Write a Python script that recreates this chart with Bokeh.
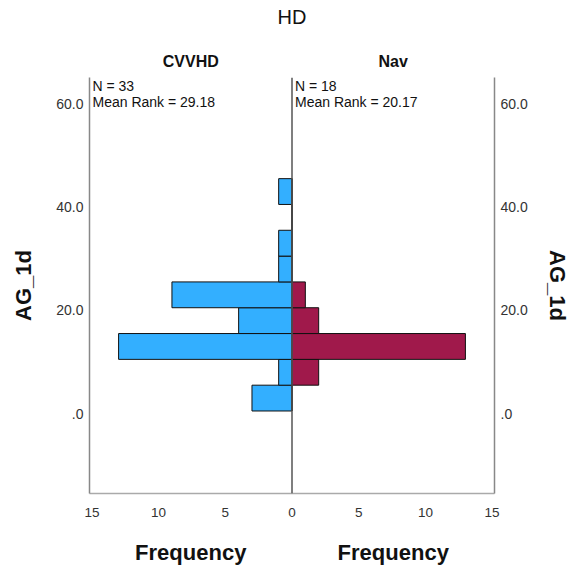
from bokeh.plotting import figure
from bokeh.models import (LinearAxis, FixedTicker, Label, Span, ColumnDataSource)
from bokeh.embed import file_html
from bokeh.resources import INLINE

# ---- data ----
bin_start = [0.5, 5.5, 10.5, 15.5, 20.5, 25.5, 30.5, 35.5, 40.5]
bin_width = 5
cvvhd_counts = [3, 1, 13, 4, 9, 1, 1, 0, 1]
nav_counts = [0, 2, 13, 2, 1, 0, 0, 0, 0]
groups = ["CVVHD", "Nav"]
group_n = [33, 18]
mean_rank = [29.18, 20.17]
y_ticks = [0, 20, 40, 60]
y_tick_labels = [".0", "20.0", "40.0", "60.0"]
x_ticks = [-15, -10, -5, 0, 5, 10, 15]
x_tick_labels = ["15", "10", "5", "0", "5", "10", "15"]
title = "HD"
y_label = "AG_1d"
x_label = "Frequency"

FONT = "Liberation Sans"
XMAX = 15.18
Y0, Y1 = -15.48, 65.09
half = XMAX / 2
panel_centers = [-half, half]

p = figure(width=572, height=569, x_range=(-XMAX, XMAX), y_range=(Y0, Y1),
           output_backend="svg", toolbar_location=None,
           min_border_left=89, min_border_right=78,
           min_border_top=77, min_border_bottom=76)
p.outline_line_color = None
p.xgrid.visible = False
p.ygrid.visible = False

left_src = ColumnDataSource(dict(
    left=[-c for c in cvvhd_counts], right=[0] * len(cvvhd_counts),
    bottom=bin_start, top=[b + bin_width for b in bin_start]))
right_src = ColumnDataSource(dict(
    left=[0] * len(nav_counts), right=nav_counts,
    bottom=bin_start, top=[b + bin_width for b in bin_start]))

p.quad(left="left", right="right", bottom="bottom", top="top", source=left_src,
       fill_color="#33AFFF", line_color="#111111", line_width=1)
p.quad(left="left", right="right", bottom="bottom", top="top", source=right_src,
       fill_color="#A0194B", line_color="#111111", line_width=1)

p.add_layout(Span(location=0, dimension="height", line_color="#555555",
                  line_width=1.5))

ya = p.yaxis[0]
ya.ticker = FixedTicker(ticks=y_ticks)
ya.major_label_overrides = dict(zip(y_ticks, y_tick_labels))
ya.axis_label = y_label

ra = LinearAxis(ticker=FixedTicker(ticks=y_ticks),
                major_label_overrides=dict(zip(y_ticks, y_tick_labels)),
                axis_label=y_label)
p.add_layout(ra, "right")

for ax, st in ((ya, 17), (ra, 14)):
    ax.axis_line_color = "#888888"
    ax.axis_line_width = 1.5
    ax.major_tick_line_color = None
    ax.minor_tick_line_color = None
    ax.major_tick_out = 0
    ax.major_tick_in = 0
    ax.major_label_standoff = 6
    ax.major_label_text_font = FONT
    ax.major_label_text_font_size = "14px"
    ax.major_label_text_color = "#333333"
    ax.axis_label_text_font = FONT
    ax.axis_label_text_font_size = "22px"
    ax.axis_label_text_font_style = "bold"
    ax.axis_label_text_color = "#111111"
    ax.axis_label_standoff = st

xa = p.xaxis[0]
xa.ticker = FixedTicker(ticks=x_ticks)
xa.major_label_overrides = dict(zip(x_ticks, x_tick_labels))
xa.axis_line_color = "#AAAAAA"
xa.axis_line_width = 1.5
xa.major_tick_line_color = None
xa.minor_tick_line_color = None
xa.major_tick_out = 0
xa.major_tick_in = 0
xa.major_label_standoff = 14
xa.major_label_text_font = FONT
xa.major_label_text_font_size = "13.5px"
xa.major_label_text_color = "#333333"

# second bottom axis carrying the two "Frequency" titles
fa = LinearAxis(ticker=FixedTicker(ticks=panel_centers),
                major_label_overrides={c: x_label for c in panel_centers})
fa.axis_line_color = None
fa.major_tick_line_color = None
fa.minor_tick_line_color = None
fa.major_tick_out = 0
fa.major_tick_in = 0
fa.major_label_standoff = 20
fa.major_label_text_font = FONT
fa.major_label_text_font_size = "22px"
fa.major_label_text_font_style = "bold"
fa.major_label_text_color = "#111111"
p.add_layout(fa, "below")

# top axis carrying the panel headers, with the overall title as its label
ta = LinearAxis(ticker=FixedTicker(ticks=panel_centers),
                major_label_overrides=dict(zip(panel_centers, groups)),
                axis_label=title)
ta.axis_line_color = None
ta.major_tick_line_color = None
ta.minor_tick_line_color = None
ta.major_tick_out = 0
ta.major_tick_in = 0
ta.major_label_standoff = 8
ta.major_label_text_font = FONT
ta.major_label_text_font_size = "16px"
ta.major_label_text_font_style = "bold"
ta.major_label_text_color = "#111111"
ta.axis_label_standoff = 22
ta.axis_label_text_font = FONT
ta.axis_label_text_font_size = "20px"
ta.axis_label_text_font_style = "normal"
ta.axis_label_text_color = "#111111"
p.add_layout(ta, "above")

# N and mean rank annotations inside each panel
for i, g in enumerate(groups):
    x0 = -XMAX if i == 0 else 0
    p.add_layout(Label(x=x0, y=63.35, x_offset=3, text=f"N = {group_n[i]}",
                       text_align="left", text_baseline="alphabetic",
                       text_font=FONT, text_font_size="14px",
                       text_color="#111111"))
    p.add_layout(Label(x=x0, y=60.3, x_offset=3,
                       text=f"Mean Rank = {mean_rank[i]:.2f}",
                       text_align="left", text_baseline="alphabetic",
                       text_font=FONT, text_font_size="14px",
                       text_color="#111111"))

open("out.html", "w").write(file_html(p, INLINE))
